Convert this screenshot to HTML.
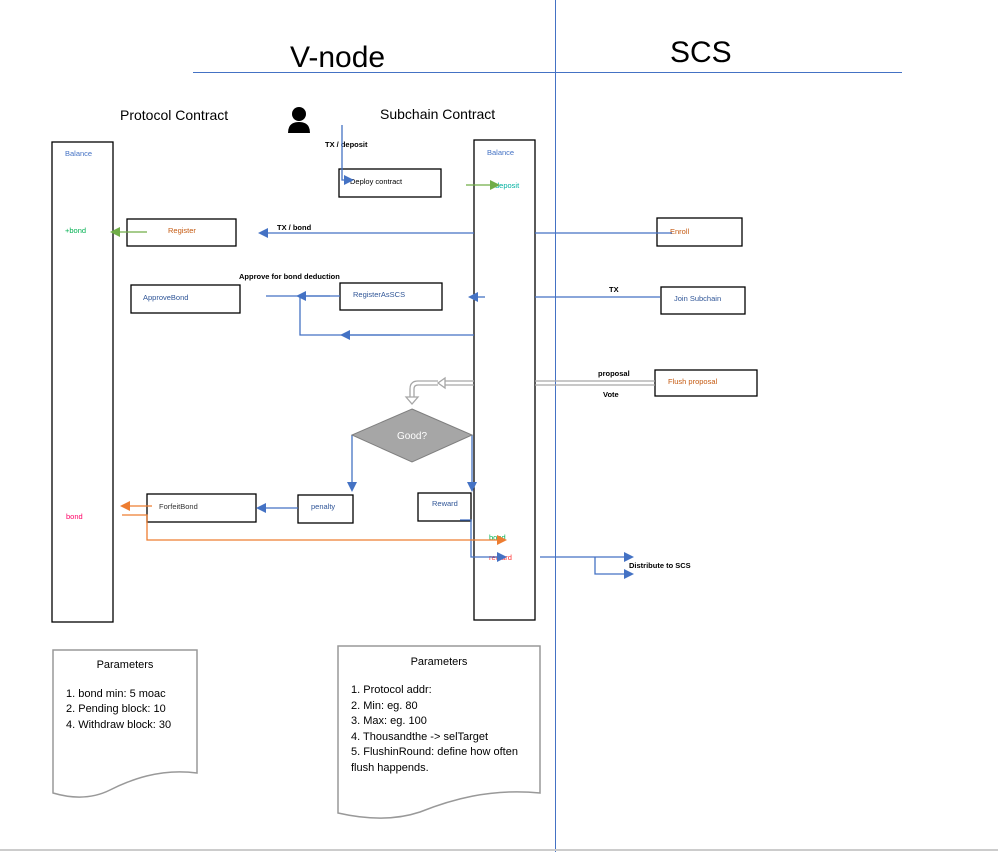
<!DOCTYPE html>
<html><head><meta charset="utf-8"><style>
html,body{margin:0;padding:0;background:#fff;}
svg{display:block;}
text{font-family:"Liberation Sans",sans-serif;}
</style></head><body>
<svg width="998" height="852" viewBox="0 0 998 852" xmlns="http://www.w3.org/2000/svg">
<defs>
<marker id="ab" markerWidth="10" markerHeight="10" refX="8" refY="5" orient="auto" markerUnits="userSpaceOnUse"><path d="M0,0 L10,5 L0,10 z" fill="#4472c4"/></marker>
<marker id="ag" markerWidth="10" markerHeight="10" refX="8" refY="5" orient="auto" markerUnits="userSpaceOnUse"><path d="M0,0 L10,5 L0,10 z" fill="#70ad47"/></marker>
<marker id="ao" markerWidth="10" markerHeight="10" refX="8" refY="5" orient="auto" markerUnits="userSpaceOnUse"><path d="M0,0 L10,5 L0,10 z" fill="#ed7d31"/></marker>
</defs>
<line x1="555.5" y1="0" x2="555.5" y2="852" stroke="#4472c4" stroke-width="1"/>
<line x1="193" y1="72.5" x2="902" y2="72.5" stroke="#4472c4" stroke-width="1"/>
<line x1="0" y1="850" x2="998" y2="850" stroke="#ccc" stroke-width="2"/>
<text x="290" y="67" font-size="30">V-node</text>
<text x="670" y="62" font-size="30">SCS</text>
<text x="120" y="120" font-size="14">Protocol Contract</text>
<text x="380" y="119" font-size="14">Subchain Contract</text>
<circle cx="299" cy="114" r="7" fill="#000"/>
<path d="M288,133 Q288,122 299,122 Q310,122 310,133 z" fill="#000"/>
<g fill="none" stroke="#000" stroke-width="1.3">
<rect x="52" y="142" width="61" height="480"/>
<rect x="474" y="140" width="61" height="480"/>
<rect x="339" y="169" width="102" height="28"/>
<rect x="127" y="219" width="109" height="27"/>
<rect x="657" y="218" width="85" height="28"/>
<rect x="131" y="285" width="109" height="28"/>
<rect x="340" y="283" width="102" height="27"/>
<rect x="661" y="287" width="84" height="27"/>
<rect x="655" y="370" width="102" height="26"/>
<rect x="147" y="494" width="109" height="28"/>
<rect x="298" y="495" width="55" height="28"/>
<rect x="418" y="493" width="53" height="28"/>
</g>
<g font-size="7.5">
<text x="65" y="156" fill="#4472c4">Balance</text>
<text x="487" y="155" fill="#4472c4">Balance</text>
<text x="65" y="233" fill="#00b050">+bond</text>
<text x="495" y="188" fill="#00b0a0">deposit</text>
<text x="350" y="184" fill="#000">Deploy contract</text>
<text x="168" y="233" fill="#c55a11">Register</text>
<text x="670" y="234" fill="#c55a11">Enroll</text>
<text x="143" y="300" fill="#2f5597">ApproveBond</text>
<text x="353" y="297" fill="#2f5597">RegisterAsSCS</text>
<text x="674" y="301" fill="#2f5597">Join Subchain</text>
<text x="668" y="384" fill="#c55a11">Flush proposal</text>
<text x="159" y="509" fill="#333">ForfeitBond</text>
<text x="311" y="509" fill="#2f5597">penalty</text>
<text x="432" y="506" fill="#2f5597">Reward</text>
<text x="66" y="519" fill="#ff0066">bond</text>
<text x="489" y="540" fill="#00b050">bond</text>
<text x="489" y="560" fill="#ff3333">reward</text>
<text x="325" y="147" fill="#000" font-weight="bold">TX / deposit</text>
<text x="277" y="230" fill="#000" font-weight="bold">TX / bond</text>
<text x="239" y="279" fill="#000" font-weight="bold">Approve for bond deduction</text>
<text x="609" y="292" fill="#000" font-weight="bold">TX</text>
<text x="598" y="376" fill="#000" font-weight="bold">proposal</text>
<text x="603" y="397" fill="#000" font-weight="bold">Vote</text>
<text x="629" y="568" fill="#000" font-weight="bold">Distribute to SCS</text>
</g>
<g fill="none" stroke="#4472c4" stroke-width="1.3">
<path d="M342,125 V180 H352" marker-end="url(#ab)"/>
<path d="M474,233 H260" marker-end="url(#ab)"/>
<path d="M535,233 H672"/>
<path d="M340,296 H266"/>
<path d="M330,296 H298" marker-end="url(#ab)"/>
<path d="M474,335 H300 V296"/>
<path d="M400,335 H342" marker-end="url(#ab)"/>
<path d="M660,297 H535"/>
<path d="M485,297 H470" marker-end="url(#ab)"/>
<path d="M352,435 V490" marker-end="url(#ab)"/>
<path d="M472,435 V490" marker-end="url(#ab)"/>
<path d="M298,508 H258" marker-end="url(#ab)"/>
<path d="M460,520 H471 V557 H505" marker-end="url(#ab)"/>
<path d="M540,557 H632" marker-end="url(#ab)"/>
<path d="M595,557 V574 H632" marker-end="url(#ab)"/>
</g>
<path d="M466,185 H498" stroke="#70ad47" stroke-width="1.3" fill="none" marker-end="url(#ag)"/>
<path d="M147,232 H112" stroke="#70ad47" stroke-width="1.3" fill="none" marker-end="url(#ag)"/>
<path d="M152,506 H122" stroke="#ed7d31" stroke-width="1.3" fill="none" marker-end="url(#ao)"/>
<path d="M122,515 H147 V540 H505" stroke="#ed7d31" stroke-width="1.3" fill="none" marker-end="url(#ao)"/>
<g fill="none" stroke="#a6a6a6" stroke-width="1.3">
<path d="M655,381 H535 M655,385 H535"/>
<path d="M474,381 H445 M474,385 H445"/>
<path d="M445,378 L438,383 L445,388 z" fill="#fff"/>
<path d="M438,381 H418 Q410,381 410,389 V397 M438,385 H418 Q414,385 414,389 V397"/>
<path d="M406,397 L412,404 L418,397 z" fill="#fff"/>
</g>
<polygon points="412,409 472,435 412,462 352,435" fill="#a6a6a6" stroke="#7f7f7f" stroke-width="1"/>
<text x="412" y="439" font-size="10" fill="#fff" text-anchor="middle">Good?</text>
<path d="M53,650 H197 V773 C160,768 130,780 110,790 C90,800 70,798 53,793 z" fill="#fff" stroke="#999" stroke-width="1.5"/>
<text x="125" y="668" font-size="11" text-anchor="middle">Parameters</text>
<g font-size="11"><text x="66" y="697">1. bond min: 5 moac</text><text x="66" y="712">2. Pending block: 10</text><text x="66" y="728">4. Withdraw block: 30</text></g>
<path d="M338,646 H540 V793 C490,788 450,800 420,812 C390,822 360,818 338,813 z" fill="#fff" stroke="#999" stroke-width="1.5"/>
<text x="439" y="665" font-size="11" text-anchor="middle">Parameters</text>
<g font-size="11"><text x="351" y="693">1. Protocol addr:</text><text x="351" y="709">2. Min: eg. 80</text><text x="351" y="724">3. Max: eg. 100</text><text x="351" y="740">4. Thousandthe -&gt; selTarget</text><text x="351" y="755">5. FlushinRound: define how often</text><text x="351" y="771">flush happends.</text></g>
</svg>
</body></html>
